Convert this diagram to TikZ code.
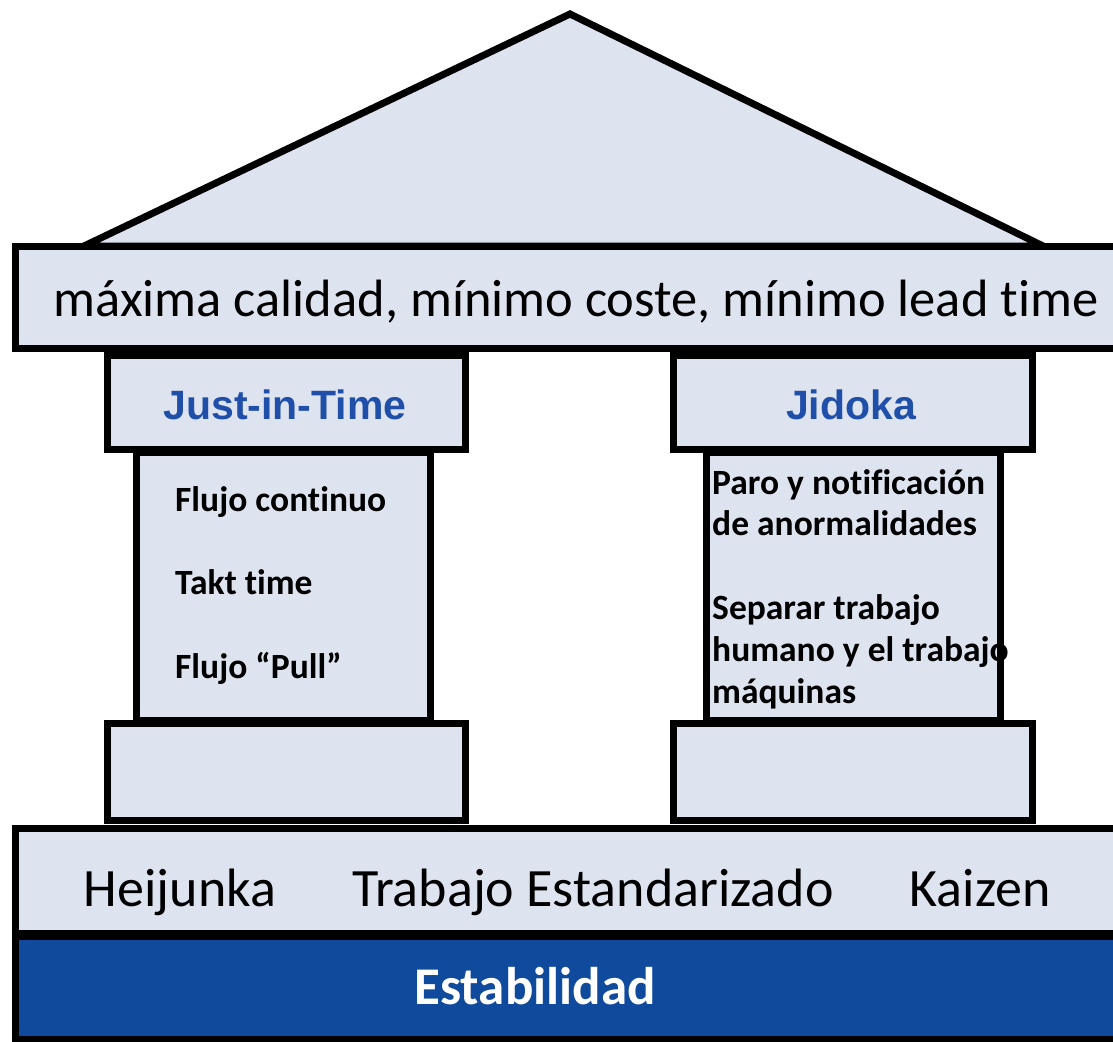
\documentclass[tikz,border=0pt]{standalone}
\usepackage{fontspec}
\setmainfont[Ligatures=NoCommon]{Carlito}
\newfontfamily\arialf{Liberation Sans}
\definecolor{pale}{HTML}{DDE4F0}
\definecolor{jitblue}{HTML}{1F4FA8}
\definecolor{stab}{HTML}{0F4A9D}
\tikzset{
  part/.style={draw=black, line width=7pt, fill=pale, inner sep=0pt},
  beamtxt/.style={anchor=base, font=\fontsize{52.5}{58}\selectfont, inner sep=0pt},
  captxt/.style={anchor=base, font=\arialf\bfseries\fontsize{41}{46}\selectfont, text=jitblue, inner sep=0pt},
  shafttxt/.style={anchor=base west, font=\bfseries\fontsize{35.5}{40}\selectfont, inner sep=0pt},
  foundtxt/.style={anchor=base, font=\fontsize{54}{60}\selectfont, inner sep=0pt},
  stabtxt/.style={anchor=base, font=\bfseries\fontsize{53}{58}\selectfont, text=white, inner sep=0pt}
}
\begin{document}
\begin{tikzpicture}[x=1pt,y=-1pt]
\useasboundingbox (0,0) rectangle (1113,1041);
\begin{scope}
\clip (0,0) rectangle (1113,1041);
% roof
\coordinate (apex) at (570,14);
\coordinate (roofL) at (84,246);
\coordinate (roofR) at (1043,246);
\draw[part, line join=miter] (roofL) -- (apex) -- (roofR) -- cycle;
% beam
\node[part, minimum width=1110pt, minimum height=102pt] (beam) at (570,297) {};
% capitals
\node[part, minimum width=358pt, minimum height=94pt] (jit) at (286,402) {};
\node[part, minimum width=359pt, minimum height=94pt] (jidoka) at (852.5,402) {};
% shafts
\node[part, minimum width=294pt, minimum height=268pt] (shaftL) at (283,586) {};
\node[part, minimum width=294pt, minimum height=268pt] (shaftR) at (853,586) {};
% bases
\node[part, minimum width=358pt, minimum height=97pt] (baseL) at (286,771.5) {};
\node[part, minimum width=359pt, minimum height=97pt] (baseR) at (852.5,771.5) {};
% foundation
\node[part, minimum width=1110pt, minimum height=105pt] (found) at (570,880.5) {};
% stability
\node[part, fill=stab, minimum width=1110pt, minimum height=103pt] (stabbar) at (570,988) {};
\end{scope}
% texts
\node[beamtxt] (tbeam) at (576,316) {máxima calidad, mínimo coste, mínimo lead time};
\node[captxt] (tjit) at (285,419) {Just-in-Time};
\node[captxt] (tjid) at (851,419) {Jidoka};
\node[shafttxt] (l1) at (175,511) {Flujo continuo};
\node[shafttxt] (l2) at (175,594) {Takt time};
\node[shafttxt] (l3) at (175,678) {Flujo “Pull”};
\node[shafttxt] (r1) at (712,494) {Paro y notificación};
\node[shafttxt] (r2) at (712,535) {de anormalidades};
\node[shafttxt] (r3) at (712,619) {Separar trabajo};
\node[shafttxt] (r4) at (712,661) {humano y el trabajo};
\node[shafttxt] (r5) at (712,703) {máquinas};
\node[foundtxt] (f1) at (180,906) {Heijunka};
\node[foundtxt] (f2) at (593,906) {Trabajo Estandarizado};
\node[foundtxt] (f3) at (980,906) {Kaizen};
\node[stabtxt] (ts) at (535,1004) {Estabilidad};
\end{tikzpicture}
\end{document}
